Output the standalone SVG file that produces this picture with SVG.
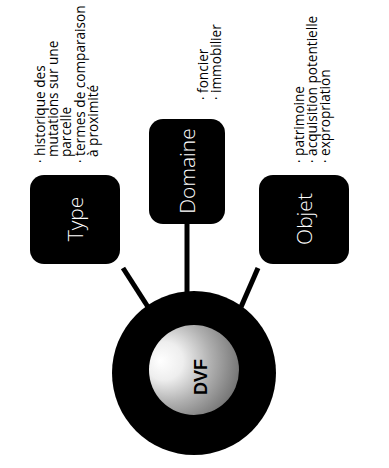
<svg xmlns="http://www.w3.org/2000/svg" width="389" height="468" viewBox="0 0 389 468">
  <style>
    .box { fill: #000; }
    .label { fill: #fff; font-family: "Open Sans", "Noto Sans", "DejaVu Sans", sans-serif; font-weight: 300; font-size: 21px; text-anchor: middle; }
    .item { fill: #000; font-family: "Open Sans", "Noto Sans", "DejaVu Sans", sans-serif; font-size: 13.6px; }
    .link { stroke: #000; stroke-width: 5; fill: none; }
    .hub-text { fill: #000; font-family: "Liberation Sans", Arial, sans-serif; font-weight: bold; font-size: 18px; text-anchor: middle; }
  </style>
  <defs>
    <radialGradient id="sphere" cx="0.3" cy="0.4" r="0.85" fx="0.12" fy="0.4">
      <stop offset="0" stop-color="#ffffff"/>
      <stop offset="0.25" stop-color="#eeeeee"/>
      <stop offset="0.55" stop-color="#b0b0b0"/>
      <stop offset="1" stop-color="#5e5e5e"/>
    </radialGradient>
  </defs>

  <rect width="389" height="468" fill="#fff"/>

  <!-- connectors between the hub and the three categories -->
  <g id="connectors">
    <line class="link" x1="123" y1="268" x2="148" y2="307"/>
    <line class="link" x1="187" y1="224" x2="187" y2="293"/>
    <line class="link" x1="258" y1="268" x2="241" y2="307"/>
  </g>

  <!-- central hub -->
  <g id="hub">
    <circle cx="194" cy="373" r="82" fill="#000"/>
    <circle cx="194" cy="370" r="45" fill="url(#sphere)"/>
    <text class="hub-text" transform="translate(207,377) rotate(-90)">DVF</text>
  </g>

  <!-- category: Type -->
  <g id="type">
    <rect class="box" x="30" y="175" width="90" height="89" rx="14"/>
    <text class="label" transform="translate(83,219) rotate(-90)">Type</text>
    <text class="item" transform="translate(45,163) rotate(-90)">· historique des</text>
    <text class="item" transform="translate(58,157) rotate(-90)">mutations sur une</text>
    <text class="item" transform="translate(71,157) rotate(-90)">parcelle</text>
    <text class="item" transform="translate(85,163) rotate(-90)">· termes de comparaison</text>
    <text class="item" transform="translate(98,157) rotate(-90)">à proximité</text>
  </g>

  <!-- category: Domaine -->
  <g id="domaine">
    <rect class="box" x="149" y="119" width="76" height="105" rx="14"/>
    <text class="label" transform="translate(195,171) rotate(-90)">Domaine</text>
    <text class="item" transform="translate(208,100) rotate(-90)">· foncier</text>
    <text class="item" transform="translate(221,100) rotate(-90)">· immobilier</text>
  </g>

  <!-- category: Objet -->
  <g id="objet">
    <rect class="box" x="259" y="175" width="90" height="89" rx="14"/>
    <text class="label" transform="translate(312,219) rotate(-90)">Objet</text>
    <text class="item" transform="translate(304,163) rotate(-90)">· patrimoine</text>
    <text class="item" transform="translate(317,163) rotate(-90)">· acquisition potentielle</text>
    <text class="item" transform="translate(330,163) rotate(-90)">· expropriation</text>
  </g>
</svg>
